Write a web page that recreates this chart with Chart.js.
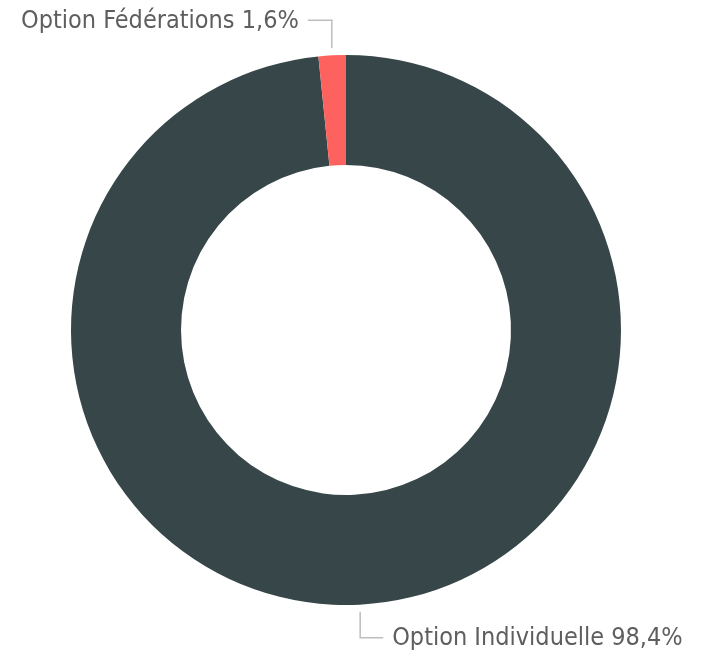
<!DOCTYPE html>
<html>
<head>
<meta charset="utf-8">
<script src="https://cdn.jsdelivr.net/npm/chart.js@4"></script>
<style>
  html, body { margin: 0; padding: 0; background: #fff; }
  #chart { display: block; }
</style>
</head>
<body>
<canvas id="chart" width="703" height="650"></canvas>
<script>
// data
const labels = ["Option Individuelle", "Option Fédérations"];
const values = [98.4, 1.6];
const colors = ["#374649", "#FD625E"];

const fmt = (v) => v.toFixed(1).replace(".", ",") + "%";

// leader lines + labels, placed from each arc's own geometry
const outsideLabels = {
  id: "outsideLabels",
  afterDraw(chart) {
    const ctx = chart.ctx;
    const meta = chart.getDatasetMeta(0);
    ctx.save();
    ctx.font = "25px 'DejaVu Sans Condensed', 'DejaVu Sans', sans-serif";
    ctx.textBaseline = "middle";
    meta.data.forEach((arc, i) => {
      const p = arc.getProps(["x", "y", "startAngle", "endAngle", "outerRadius"], true);
      const mid = (p.startAngle + p.endAngle) / 2;
      const ex = p.x + Math.cos(mid) * (p.outerRadius + 7);
      const ey = p.y + Math.sin(mid) * (p.outerRadius + 7);
      const up = Math.sin(mid) < 0;
      const ky = up ? ey - 28 : ey + 26;
      const kx = up ? ex - 24 : ex + 23;
      ctx.strokeStyle = "#BDBDBD";
      ctx.lineWidth = 1.5;
      ctx.beginPath();
      ctx.moveTo(ex, ey);
      ctx.lineTo(ex, ky);
      ctx.lineTo(kx, ky);
      ctx.stroke();
      ctx.fillStyle = "#5E5E5E";
      ctx.textAlign = up ? "right" : "left";
      const text = labels[i] + " " + fmt(values[i]);
      ctx.fillText(text, up ? kx - 9 : kx + 9, ky + 1);
    });
    ctx.restore();
  }
};

new Chart(document.getElementById("chart"), {
  type: "doughnut",
  data: {
    labels,
    datasets: [{
      data: values,
      backgroundColor: colors,
      hoverBackgroundColor: colors,
      borderWidth: 0,
    }],
  },
  options: {
    responsive: false,
    animation: false,
    cutout: "60%",
    layout: { padding: { top: 55, bottom: 45, left: 71, right: 82 } },
    plugins: {
      legend: { display: false },
      tooltip: { enabled: false },
    },
  },
  plugins: [outsideLabels],
});
</script>
</body>
</html>
